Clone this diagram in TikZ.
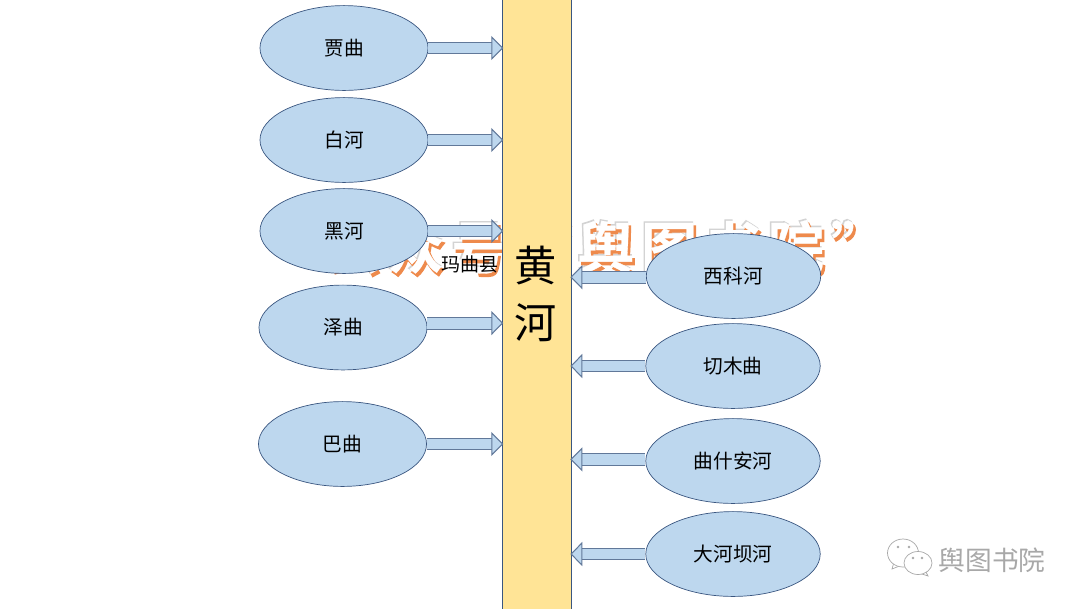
\documentclass[tikz,border=0pt]{standalone}
\usepackage{fontspec}
\setmainfont{Noto Sans CJK SC}
\newfontfamily\markfont[LetterSpace=12.5,FakeBold=0.5]{Noto Sans CJK SC Bold}
\newfontfamily\markfonthalo[LetterSpace=12.5,FakeBold=2.4]{Noto Sans CJK SC Bold}
\usetikzlibrary{arrows.meta,shapes.geometric}
\definecolor{riverblue}{HTML}{BDD7EE}
\definecolor{riveredge}{HTML}{3A5680}
\definecolor{mainyellow}{HTML}{FFE496}
\definecolor{markorange}{HTML}{EE8A4C}
\definecolor{markgray}{HTML}{A8A8A8}
\tikzset{
	branch/.style={ellipse,draw=riveredge,line width=0.5pt,fill=riverblue,minimum width=4.2cm,minimum height=2.12cm,inner sep=0pt,font=\fontsize{14pt}{16pt}\selectfont},
	longbranch/.style={branch,minimum width=4.36cm},
	mainriver/.style={rectangle,draw=riveredge,line width=0.7pt,fill=mainyellow,minimum width=1.73cm,minimum height=15.5cm,inner sep=0pt},
	inflow/.style={draw=riveredge!80,line width=0.75pt,double=riverblue,double distance=0.27cm,shorten >=-0.04cm,-{Triangle[width=0.6cm,length=0.3cm,fill=riverblue]}},
	bubble/.style={draw=markgray,line width=0.5pt,fill=white},
	eyedot/.style={fill=markgray}
}
\begin{document}
\begin{tikzpicture}[x=0.025cm,y=-0.025cm]
	\useasboundingbox (0,0) rectangle (1080,608);
	\node[text=markgray!50,font=\markfonthalo\fontsize{40pt}{48pt}\selectfont] (markhalo) at (605,246) {公众号“舆图书院”};
	\node[text=markorange,font=\markfonthalo\fontsize{40pt}{48pt}\selectfont] (markshadow) at (608,250) {公众号“舆图书院”};
	\node[text=white,font=\markfont\fontsize{40pt}{48pt}\selectfont] (marktext) at (606,247) {公众号“舆图书院”};
	\node[mainriver] (huanghe) at (536.8,310) {};
	\node[font=\fontsize{30pt}{40pt}\selectfont,align=center] (huanghelabel) at (536,294) {黄\\河};
	\node[font=\fontsize{13.5pt}{16pt}\selectfont] (maqu) at (470,264) {玛曲县};
	\node[branch] (jiaqu) at (344,48) {贾曲};
	\node[branch] (baihe) at (344,140) {白河};
	\node[branch] (heihe) at (344,231) {黑河};
	\node[branch] (zequ) at (343,327.5) {泽曲};
	\node[branch] (baqu) at (342.5,444) {巴曲};
	\node[longbranch] (xikehe) at (733.5,276) {西科河};
	\node[longbranch] (qiemuqu) at (733,366) {切木曲};
	\node[longbranch] (qushian) at (733,461) {曲什安河};
	\node[longbranch] (dahebahe) at (733,554) {大河坝河};
	\draw[inflow] (jiaqu.east) -- (jiaqu.east -| huanghe.west);
	\draw[inflow] (baihe.east) -- (baihe.east -| huanghe.west);
	\draw[inflow] (heihe.east) -- (heihe.east -| huanghe.west);
	\draw[inflow] ([yshift=0.11cm]zequ.east) -- ([yshift=0.11cm]zequ.east -| huanghe.west);
	\draw[inflow] (baqu.east) -- (baqu.east -| huanghe.west);
	\draw[inflow] ([yshift=-0.03cm]xikehe.west) -- ([yshift=-0.03cm]xikehe.west -| huanghe.east);
	\draw[inflow] (qiemuqu.west) -- (qiemuqu.west -| huanghe.east);
	\draw[inflow] ([yshift=0.04cm]qushian.west) -- ([yshift=0.04cm]qushian.west -| huanghe.east);
	\draw[inflow] (dahebahe.west) -- (dahebahe.west -| huanghe.east);
	\draw[bubble] (894,562) -- (892,569) -- (902,565) -- cycle;
	\draw[bubble] (903,553) ellipse (15.5 and 14);
	\draw[bubble] (925,570) -- (928,576) -- (919,573) -- cycle;
	\draw[bubble] (918,563) ellipse (14 and 11.5);
	\fill[eyedot] (898,547) circle (1.3) (909,547) circle (1.3) (913,558) circle (1.3) (922,558) circle (1.3);
	\node[text=markgray,font=\fontsize{19pt}{22pt}\selectfont] (marksmall) at (992,560) {舆图书院};
\end{tikzpicture}
\end{document}
